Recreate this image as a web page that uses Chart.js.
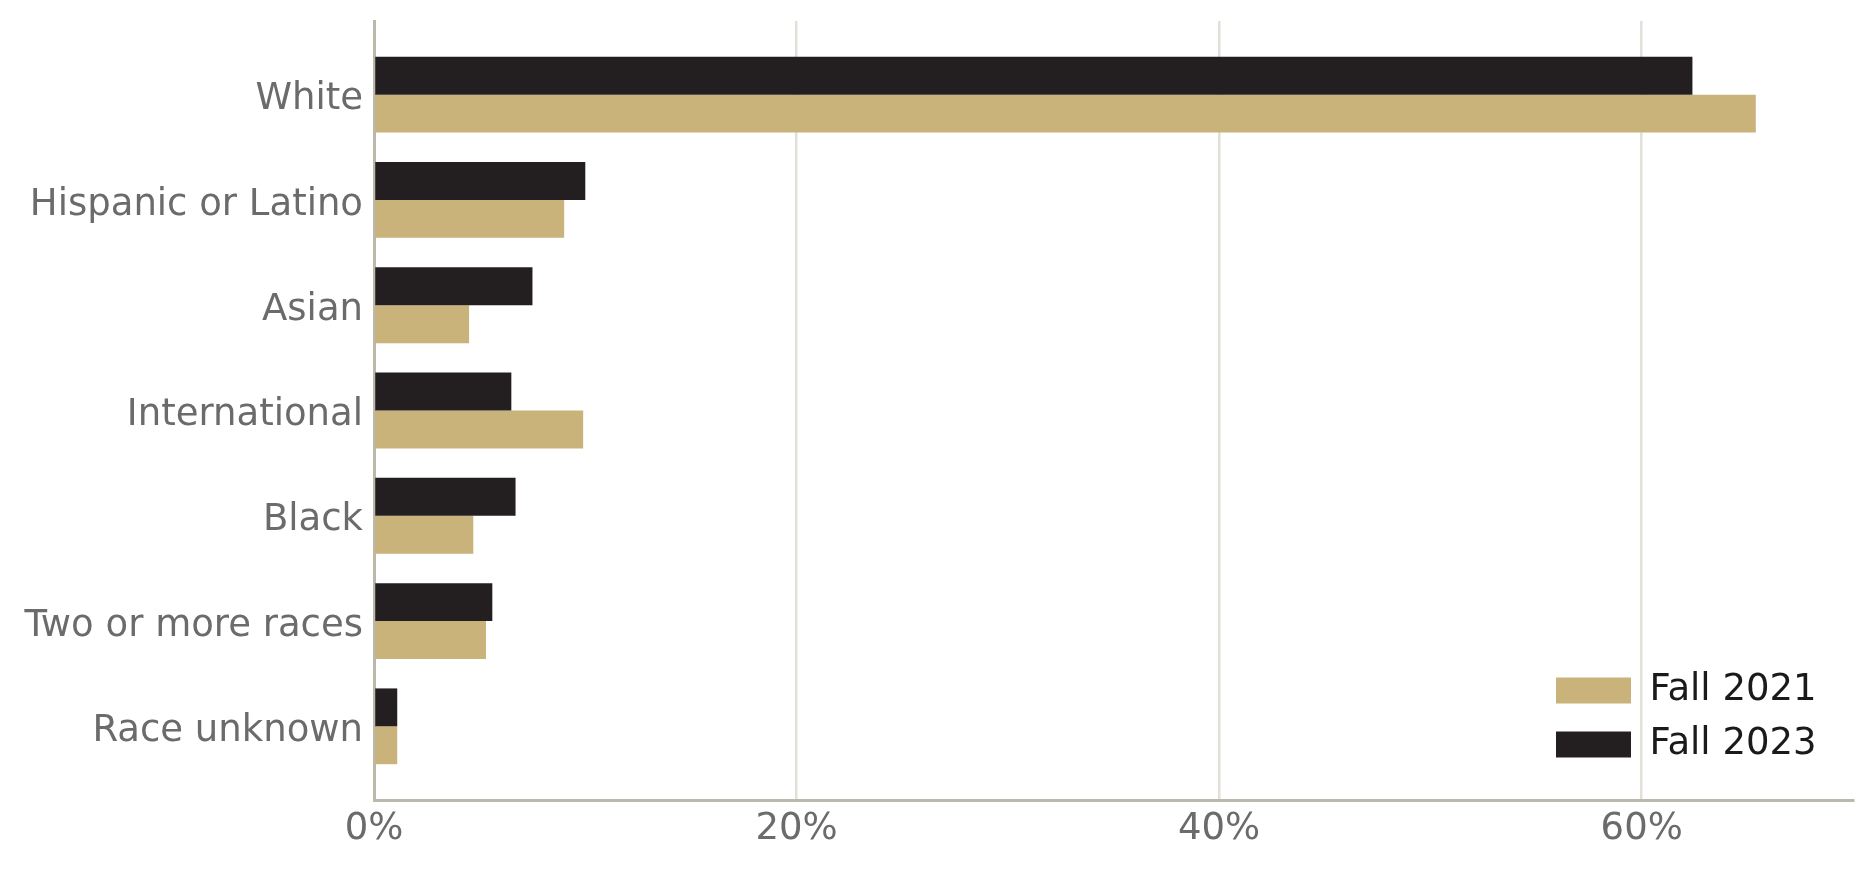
<!DOCTYPE html>
<html>
<head>
<meta charset="utf-8">
<script src="https://cdn.jsdelivr.net/npm/chart.js@4/dist/chart.umd.min.js"></script>
<style>
    html, body { margin: 0; padding: 0; background: #ffffff; }
    #wrap { width: 1875px; height: 869px; position: relative; }
</style>
</head>
<body>
<div id="wrap"><canvas id="raceChart"></canvas></div>
<script>
// Enrollment share by race / ethnicity
const categories = ['White', 'Hispanic or Latino', 'Asian', 'International', 'Black', 'Two or more races', 'Race unknown'];
const fall2023 = [62.4, 10.0, 7.5, 6.5, 6.7, 5.6, 1.1];
const fall2021 = [65.4, 9.0, 4.5, 9.9, 4.7, 5.3, 1.1];
const xTicks = [0, 20, 40, 60];

const GOLD = '#cab37b';
const BLACK = '#231f20';
const FONT = 'DejaVu Sans';

// put the legend in the lower right corner of the plot
const legendCorner = {
    id: 'legendCorner',
    afterLayout(chart) {
        const lg = chart.legend;
        const ca = chart.chartArea;
        if (!lg) return;
        lg.left = ca.right - 314;
        lg.right = ca.right;
        lg.top = ca.top;
        lg.bottom = ca.bottom - 20;
        lg.width = lg.right - lg.left;
        lg.height = lg.bottom - lg.top;
    }
};

const ctx = document.getElementById('raceChart').getContext('2d');
new Chart(ctx, {
    type: 'bar',
    data: {
        datasets: [{
            label: 'Fall 2023',
            data: fall2023.map((v, i) => ({ x: v, y: i })),
            backgroundColor: BLACK
        }, {
            label: 'Fall 2021',
            data: fall2021.map((v, i) => ({ x: v, y: i })),
            backgroundColor: GOLD
        }]
    },
    options: {
        indexAxis: 'y',
        responsive: true,
        maintainAspectRatio: false,
        animation: false,
        layout: {
            padding: { left: 0, right: 22, top: 21, bottom: 0 }
        },
        datasets: {
            bar: {
                categoryPercentage: 0.72,
                barPercentage: 1.0,
                borderWidth: 0
            }
        },
        plugins: {
            tooltip: { enabled: false },
            legend: {
                position: 'chartArea',
                align: 'end',
                labels: {
                    boxWidth: 75,
                    boxHeight: 26,
                    padding: 17,
                    color: '#1a1a1a',
                    font: { family: FONT, size: 37 },
                    sort: (a, b) => b.datasetIndex - a.datasetIndex
                }
            }
        },
        scales: {
            x: {
                type: 'linear',
                position: 'bottom',
                min: 0,
                max: 70,
                afterBuildTicks: (axis) => { axis.ticks = xTicks.map(v => ({ value: v })); },
                afterFit: (axis) => { axis.height = 69; axis.paddingLeft = 0; axis.paddingRight = 0; },
                grid: {
                    color: '#e2e0d8',
                    lineWidth: 2.5,
                    drawTicks: false
                },
                border: { color: '#bcb8ac', width: 3 },
                ticks: {
                    color: '#6b6b6b',
                    padding: 7,
                    font: { family: FONT, size: 37 },
                    callback: (v) => v + '%'
                }
            },
            y: {
                type: 'linear',
                reverse: true,
                offset: false,
                min: -0.7,
                max: 6.7,
                afterBuildTicks: (axis) => { axis.ticks = categories.map((c, i) => ({ value: i })); },
                afterFit: (axis) => { axis.width = 374; axis.paddingTop = 0; axis.paddingBottom = 0; },
                grid: { display: false, drawTicks: false, offset: false },
                border: { color: '#bcb8ac', width: 3 },
                ticks: {
                    color: '#6b6b6b',
                    padding: 11,
                    // empty first line nudges the name a few px below the tick
                    font: { family: FONT, size: 37, lineHeight: '10px' },
                    callback: (v) => ['', categories[v]]
                }
            }
        }
    },
    plugins: [legendCorner]
});
</script>
</body>
</html>
